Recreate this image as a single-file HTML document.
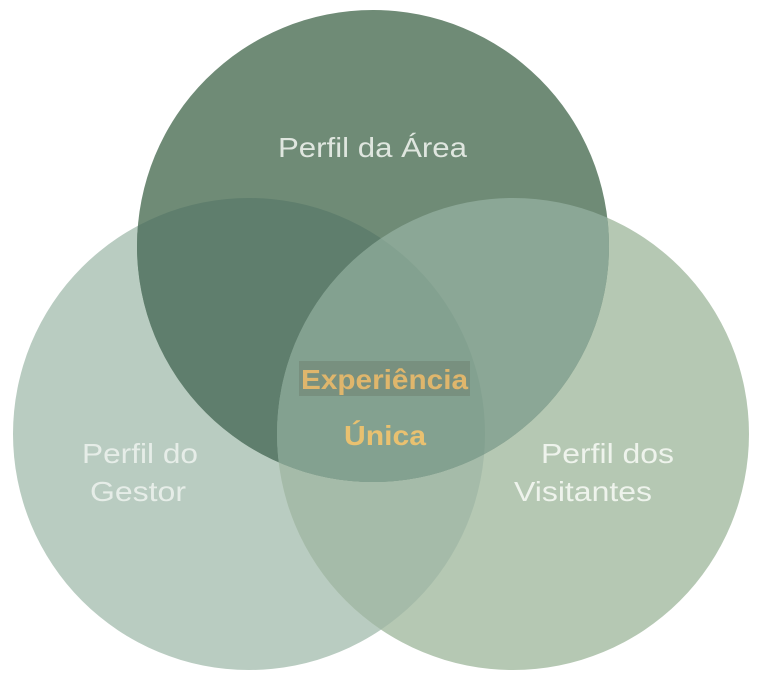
<!DOCTYPE html>
<html><head><style>
html,body{margin:0;padding:0;background:#fff;width:768px;height:693px;overflow:hidden}
svg{display:block}
text{font-family:"Liberation Sans",Arial,sans-serif}
</style></head><body>
<svg width="768" height="693" viewBox="0 0 768 693">
<defs>
<clipPath id="cT"><circle cx="373" cy="246" r="236"/></clipPath>
<clipPath id="cL"><circle cx="249" cy="434" r="236"/></clipPath>
<clipPath id="cR"><circle cx="513" cy="434" r="236"/></clipPath>
</defs>
<circle cx="249" cy="434" r="236" fill="#b9ccc1"/>
<circle cx="513" cy="434" r="236" fill="#b5c8b3"/>
<circle cx="373" cy="246" r="236" fill="#6f8b76"/>
<g clip-path="url(#cL)"><circle cx="513" cy="434" r="236" fill="#a5bba9"/></g>
<g clip-path="url(#cT)"><circle cx="249" cy="434" r="236" fill="#5f7e6d"/></g>
<g clip-path="url(#cT)"><circle cx="513" cy="434" r="236" fill="#8ba796"/></g>
<g clip-path="url(#cT)"><g clip-path="url(#cL)"><circle cx="513" cy="434" r="236" fill="#83a190"/></g></g>
<text x="278" y="157" font-size="28" fill="#dfe6df" textLength="189" lengthAdjust="spacingAndGlyphs">Perfil da Área</text>
<text x="82" y="463" font-size="28" fill="#e6ede8" textLength="116" lengthAdjust="spacingAndGlyphs">Perfil do</text>
<text x="90" y="501" font-size="28" fill="#e6ede8" textLength="96" lengthAdjust="spacingAndGlyphs">Gestor</text>
<text x="541" y="463" font-size="28" fill="#eef3ec" textLength="133" lengthAdjust="spacingAndGlyphs">Perfil dos</text>
<text x="514" y="501" font-size="28" fill="#eef3ec" textLength="138" lengthAdjust="spacingAndGlyphs">Visitantes</text>
<rect x="299" y="361" width="171" height="35" fill="#78907f"/>
<text x="301" y="389" font-size="28" font-weight="bold" fill="#dfb66c" textLength="167" lengthAdjust="spacingAndGlyphs">Experiência</text>
<text x="344" y="445" font-size="28" font-weight="bold" fill="#e9c170" textLength="82" lengthAdjust="spacingAndGlyphs">Única</text>
</svg>
</body></html>
